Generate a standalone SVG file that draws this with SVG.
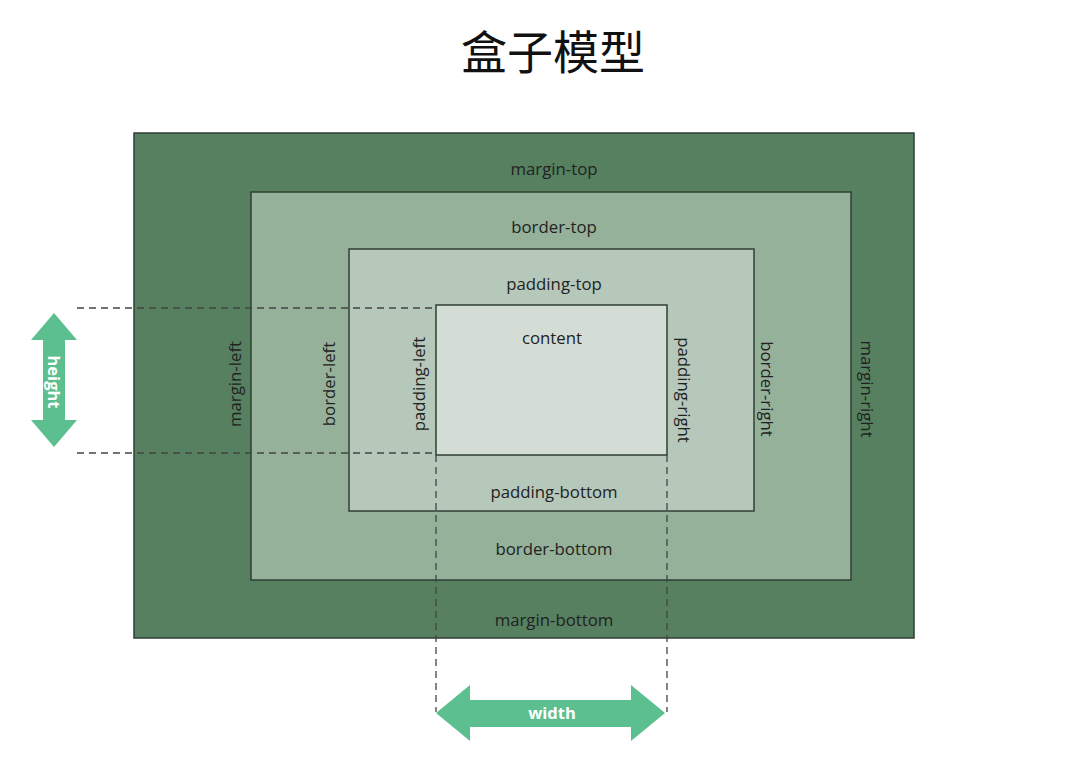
<svg xmlns="http://www.w3.org/2000/svg" width="1079" height="770" viewBox="0 0 1079 770">
<style>
.box{stroke:#2f3f33;stroke-width:1.5}
.lbl{font-family:"Open Sans","Noto Sans","Liberation Sans",sans-serif;font-size:16.8px;fill:#222;text-anchor:middle;dominant-baseline:central}
.dash{stroke:#444;stroke-width:1.3;stroke-dasharray:7,5;fill:none}
.arr{fill:#5bbf8f}
.al{font-family:"Open Sans","Noto Sans","Liberation Sans",sans-serif;font-size:16.5px;font-weight:bold;fill:#fff;text-anchor:middle;dominant-baseline:central}
</style>
<rect width="1079" height="770" fill="#fff"/>
<text x="553" y="49" font-family="'Noto Sans CJK SC',sans-serif" font-size="46" fill="#111" text-anchor="middle" dominant-baseline="central">盒子模型</text>
<g id="margin"><rect class="box" x="134" y="133" width="780" height="505" fill="#56805f"/>
<text class="lbl" x="554" y="168">margin-top</text>
<text class="lbl" x="554" y="619">margin-bottom</text>
<text class="lbl" transform="translate(234,384) rotate(-90)">margin-left</text>
<text class="lbl" transform="translate(867,389) rotate(90)">margin-right</text></g>
<g id="border"><rect class="box" x="251" y="192" width="600" height="388" fill="#95b19a"/>
<text class="lbl" x="554" y="226">border-top</text>
<text class="lbl" x="554" y="548">border-bottom</text>
<text class="lbl" transform="translate(328,384) rotate(-90)">border-left</text>
<text class="lbl" transform="translate(767,389) rotate(90)">border-right</text></g>
<g id="padding"><rect class="box" x="349" y="249" width="405" height="262" fill="#b6c8ba"/>
<text class="lbl" x="554" y="283">padding-top</text>
<text class="lbl" x="554" y="491">padding-bottom</text>
<text class="lbl" transform="translate(418,384) rotate(-90)">padding-left</text>
<text class="lbl" transform="translate(684,390) rotate(90)">padding-right</text></g>
<g id="content"><rect class="box" x="436" y="305" width="231" height="150" fill="#d3ddd5"/>
<text class="lbl" x="552" y="337">content</text></g>
<g id="connectors">
<line class="dash" x1="77" y1="308" x2="436" y2="308"/>
<line class="dash" x1="77" y1="453" x2="436" y2="453"/>
<line class="dash" x1="436" y1="455" x2="436" y2="712"/>
<line class="dash" x1="667" y1="455" x2="667" y2="712"/>
</g>
<g id="height-arrow">
<polygon class="arr" points="54,313 77,340 65,340 65,420 77,420 54,447 31,420 43,420 43,340 31,340"/>
<text class="al" transform="translate(54,382) rotate(90)">height</text></g>
<g id="width-arrow">
<polygon class="arr" points="436,713 470,685 470,700 631,700 631,685 665,713 631,741 631,727 470,727 470,741"/>
<text class="al" x="552" y="712">width</text></g>
</svg>
